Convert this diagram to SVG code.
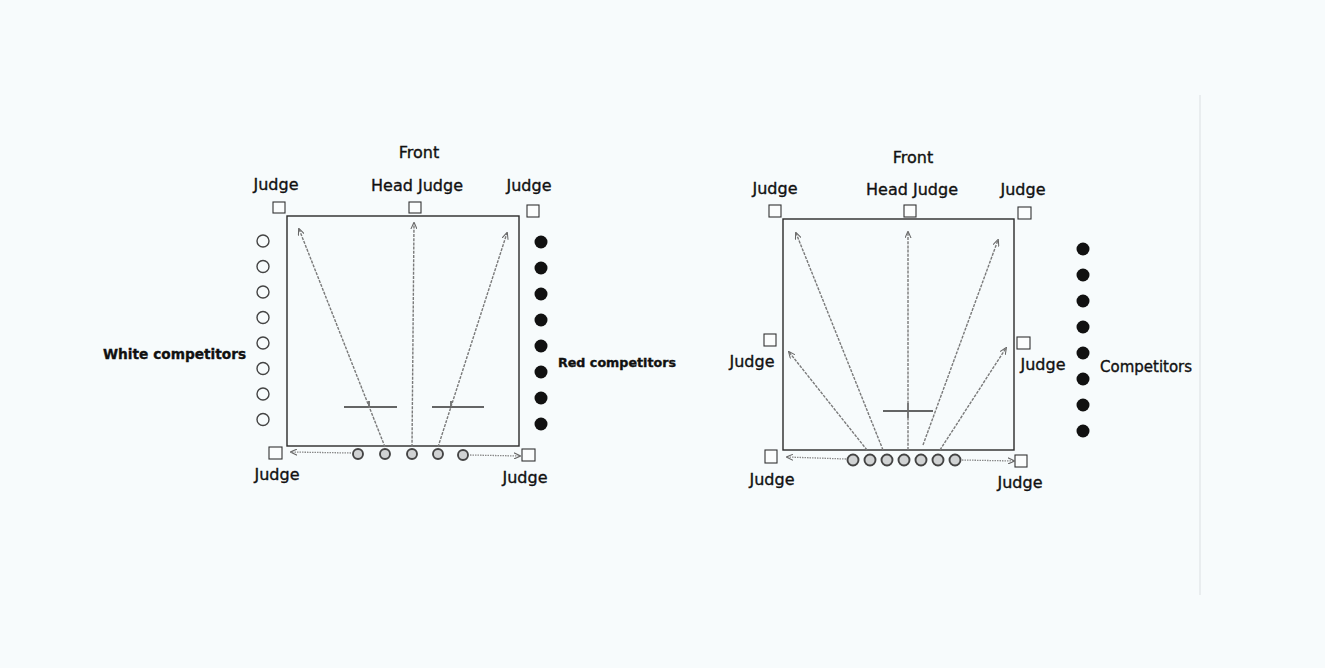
<svg xmlns="http://www.w3.org/2000/svg" width="1325" height="668" viewBox="0 0 1325 668">
<defs>
<marker id="ah" viewBox="0 0 8 8" refX="7" refY="4" markerWidth="7" markerHeight="7" markerUnits="userSpaceOnUse" orient="auto">
<path d="M0,0.5 L8,4 L0,7.5" fill="none" stroke="#666" stroke-width="1.2"/>
</marker>
<style>
text{font-family:"DejaVu Sans","Liberation Sans",sans-serif;fill:#111;stroke:#111;stroke-width:0.35}
.lbl{font-size:16px;text-anchor:middle}
.field{fill:none;stroke:#2a2a2a;stroke-width:1.4}
.jsq{fill:#fbfdfd;stroke:#333;stroke-width:1.1}
.wc{fill:none;stroke:#444;stroke-width:1.4}
.rc{fill:#111}
.bc{fill:#d0d2d3;stroke:#444;stroke-width:1.9}
.diag{fill:none;stroke:#7a7a7a;stroke-width:1.4;stroke-dasharray:3 1.2;marker-end:url(#ah)}
.dot{fill:none;stroke:#8a8a8a;stroke-width:1.3;stroke-dasharray:1.5 1;marker-end:url(#ah)}
.bar{stroke:#333;stroke-width:1.3}
</style>
</defs>
<rect x="0" y="0" width="1325" height="668" fill="#f7fbfc"/>
<line x1="1200" y1="95" x2="1200" y2="595" stroke="#e4e9eb" stroke-width="1.5"/>

<!-- LEFT DIAGRAM -->
<g id="left-field">
<rect class="field" x="287" y="216" width="232" height="230"/>
<line class="bar" x1="344" y1="407" x2="397" y2="407"/>
<line class="bar" x1="432" y1="407" x2="484" y2="407"/>
<line class="bar" x1="369" y1="401" x2="369" y2="407"/>
<line class="bar" x1="451" y1="401" x2="451" y2="407"/>
</g>
<text class="lbl" x="419" y="158">Front</text>
<g id="l-judge-tl"><rect class="jsq" x="273" y="202" width="12" height="11"/><text class="lbl" x="276" y="190">Judge</text></g>
<g id="l-head-judge"><rect class="jsq" x="409" y="202" width="12" height="11"/><text class="lbl" x="417" y="191">Head Judge</text></g>
<g id="l-judge-tr"><rect class="jsq" x="527" y="205" width="12" height="12"/><text class="lbl" x="529" y="191">Judge</text></g>
<g id="l-judge-bl"><rect class="jsq" x="269" y="447" width="13" height="12"/><text class="lbl" x="277" y="480">Judge</text></g>
<g id="l-judge-br"><rect class="jsq" x="522" y="449" width="13" height="12"/><text class="lbl" x="525" y="483">Judge</text></g>
<g id="l-white-competitors">
<circle class="wc" cx="263" cy="241" r="6"/><circle class="wc" cx="263" cy="266.5" r="6"/>
<circle class="wc" cx="263" cy="292" r="6"/><circle class="wc" cx="263" cy="317.5" r="6"/>
<circle class="wc" cx="263" cy="343" r="6"/><circle class="wc" cx="263" cy="368.5" r="6"/>
<circle class="wc" cx="263" cy="394" r="6"/><circle class="wc" cx="263" cy="419.5" r="6"/>
<text x="103" y="359" style="font-size:13.7px;font-weight:bold">White competitors</text>
</g>
<g id="l-red-competitors">
<circle class="rc" cx="541" cy="242" r="6.5"/><circle class="rc" cx="541" cy="268" r="6.5"/>
<circle class="rc" cx="541" cy="294" r="6.5"/><circle class="rc" cx="541" cy="320" r="6.5"/>
<circle class="rc" cx="541" cy="346" r="6.5"/><circle class="rc" cx="541" cy="372" r="6.5"/>
<circle class="rc" cx="541" cy="398" r="6.5"/><circle class="rc" cx="541" cy="424" r="6.5"/>
<text x="558" y="367" style="font-size:12.7px;font-weight:bold">Red competitors</text>
</g>
<g id="l-bout-competitors">
<circle class="bc" cx="358" cy="454" r="5"/><circle class="bc" cx="385" cy="454" r="5"/>
<circle class="bc" cx="412" cy="454" r="5"/><circle class="bc" cx="438" cy="454" r="5"/>
<circle class="bc" cx="463" cy="455" r="5"/>
</g>
<g id="l-connectors">
<line class="diag" x1="385" y1="447" x2="299" y2="229"/>
<line class="diag" x1="412" y1="447" x2="414" y2="223"/>
<line class="diag" x1="438" y1="447" x2="507" y2="233"/>
<line class="dot" x1="351" y1="453" x2="291" y2="452"/>
<line class="dot" x1="470" y1="455" x2="520" y2="456"/>
</g>

<!-- RIGHT DIAGRAM -->
<g id="right-field">
<rect class="field" x="783" y="219" width="231" height="231"/>
<line class="bar" x1="883" y1="411" x2="933" y2="411"/>
<line class="bar" x1="908" y1="403" x2="908" y2="418"/>
</g>
<text class="lbl" x="913" y="163">Front</text>
<g id="r-judge-tl"><rect class="jsq" x="769" y="205" width="12" height="12"/><text class="lbl" x="775" y="194">Judge</text></g>
<g id="r-head-judge"><rect class="jsq" x="904" y="205" width="12" height="12"/><text class="lbl" x="912" y="195">Head Judge</text></g>
<g id="r-judge-tr"><rect class="jsq" x="1018" y="207" width="13" height="12"/><text class="lbl" x="1023" y="195">Judge</text></g>
<g id="r-judge-ml"><rect class="jsq" x="764" y="334" width="12" height="12"/><text class="lbl" x="752" y="367">Judge</text></g>
<g id="r-judge-mr"><rect class="jsq" x="1017" y="337" width="13" height="12"/><text class="lbl" x="1043" y="370">Judge</text></g>
<g id="r-judge-bl"><rect class="jsq" x="765" y="450" width="12" height="13"/><text class="lbl" x="772" y="485">Judge</text></g>
<g id="r-judge-br"><rect class="jsq" x="1015" y="455" width="12" height="12"/><text class="lbl" x="1020" y="488">Judge</text></g>
<g id="r-competitors">
<circle class="rc" cx="1083" cy="249" r="6.5"/><circle class="rc" cx="1083" cy="275" r="6.5"/>
<circle class="rc" cx="1083" cy="301" r="6.5"/><circle class="rc" cx="1083" cy="327" r="6.5"/>
<circle class="rc" cx="1083" cy="353" r="6.5"/><circle class="rc" cx="1083" cy="379" r="6.5"/>
<circle class="rc" cx="1083" cy="405" r="6.5"/><circle class="rc" cx="1083" cy="431" r="6.5"/>
<text x="1100" y="372" style="font-size:15px">Competitors</text>
</g>
<g id="r-bout-competitors">
<circle class="bc" cx="853" cy="460" r="5.5"/><circle class="bc" cx="870" cy="460" r="5.5"/>
<circle class="bc" cx="887" cy="460" r="5.5"/><circle class="bc" cx="904" cy="460" r="5.5"/>
<circle class="bc" cx="921" cy="460" r="5.5"/><circle class="bc" cx="938" cy="460" r="5.5"/>
<circle class="bc" cx="955" cy="460" r="5.5"/>
</g>
<g id="r-connectors">
<line class="diag" x1="883" y1="450" x2="796" y2="233"/>
<line class="diag" x1="867" y1="450" x2="789" y2="352"/>
<line class="diag" x1="908" y1="450" x2="908" y2="232"/>
<line class="diag" x1="923" y1="445" x2="998" y2="240"/>
<line class="diag" x1="940" y1="450" x2="1006" y2="348"/>
<line class="dot" x1="846" y1="459" x2="787" y2="457"/>
<line class="dot" x1="962" y1="460" x2="1014" y2="461"/>
</g>
</svg>
